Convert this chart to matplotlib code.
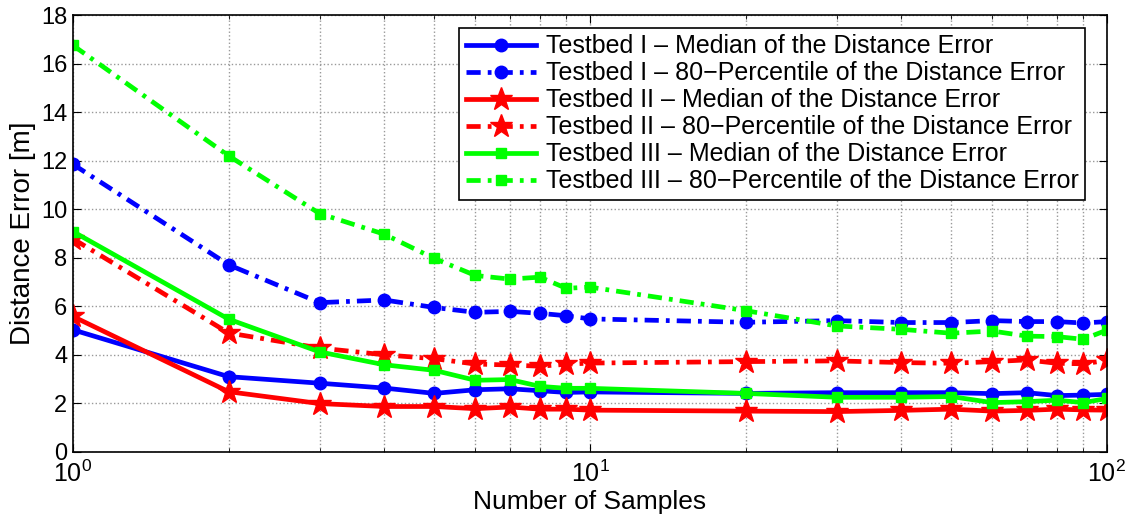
import math
import matplotlib
matplotlib.use("Agg")
import matplotlib.pyplot as plt
from matplotlib.ticker import LogLocator, NullFormatter, FuncFormatter

plt.rcParams['font.family'] = ['Liberation Sans', 'DejaVu Sans']
plt.rcParams['mathtext.fontset'] = 'custom'
plt.rcParams['mathtext.rm'] = 'Liberation Sans'
plt.rcParams['mathtext.it'] = 'Liberation Sans'

# samples
n_samples = [1, 2, 3, 4, 5, 6, 7, 8, 9, 10, 20, 30, 40, 50, 60, 70, 80, 90, 100]

# distance error [m]
tb1_median = [5.03, 3.10, 2.83, 2.63, 2.41, 2.56, 2.60, 2.52, 2.45, 2.47,
              2.41, 2.44, 2.44, 2.44, 2.40, 2.44, 2.32, 2.34, 2.37]
tb1_p80 = [11.85, 7.71, 6.15, 6.26, 5.95, 5.75, 5.79, 5.71, 5.61, 5.48,
           5.34, 5.41, 5.33, 5.33, 5.41, 5.37, 5.37, 5.31, 5.37]
tb2_median = [5.58, 2.48, 1.99, 1.87, 1.87, 1.78, 1.85, 1.76, 1.76, 1.72,
              1.68, 1.66, 1.71, 1.76, 1.68, 1.71, 1.76, 1.73, 1.72]
tb2_p80 = [8.78, 4.90, 4.28, 4.00, 3.84, 3.62, 3.58, 3.53, 3.61, 3.66,
           3.72, 3.75, 3.68, 3.65, 3.72, 3.79, 3.65, 3.63, 3.77]
tb3_median = [9.08, 5.47, 4.12, 3.59, 3.36, 2.95, 2.98, 2.70, 2.62, 2.62,
              2.41, 2.25, 2.25, 2.28, 2.03, 2.07, 2.13, 2.03, 2.20]
tb3_p80 = [16.75, 12.20, 9.82, 8.97, 7.97, 7.27, 7.12, 7.20, 6.74, 6.79,
           5.82, 5.19, 5.05, 4.89, 4.98, 4.77, 4.75, 4.64, 5.02]

labels = [
    "Testbed I \u2013 Median of the Distance Error",
    "Testbed I \u2013 80\u2212Percentile of the Distance Error",
    "Testbed II \u2013 Median of the Distance Error",
    "Testbed II \u2013 80\u2212Percentile of the Distance Error",
    "Testbed III \u2013 Median of the Distance Error",
    "Testbed III \u2013 80\u2212Percentile of the Distance Error",
]

fig = plt.figure(figsize=(11.3, 5.2), dpi=100)
ax = fig.add_axes([0.0646, 0.131, 0.915, 0.840])

dashdot = (0, (3, 1.5, 0.8, 1.5))
lw = 3.4
ax.plot(n_samples, tb1_median, color='#0000ff', lw=lw, marker='o', ms=9, label=labels[0])
ax.plot(n_samples, tb1_p80, color='#0000ff', lw=lw, ls=dashdot, marker='o', ms=9, label=labels[1])
ax.plot(n_samples, tb2_median, color='#ff0000', lw=lw, marker='*', ms=17, label=labels[2])
ax.plot(n_samples, tb2_p80, color='#ff0000', lw=lw, ls=dashdot, marker='*', ms=17, label=labels[3])
ax.plot(n_samples, tb3_median, color='#00ff00', lw=lw, marker='s', ms=7.5, label=labels[4])
ax.plot(n_samples, tb3_p80, color='#00ff00', lw=lw, ls=dashdot, marker='s', ms=7.5, label=labels[5])

ax.set_xscale('log')
ax.set_xlim(1, 100)
ax.set_ylim(0, 18)
ax.set_yticks(range(0, 19, 2))
ax.xaxis.set_minor_locator(LogLocator(base=10, subs=range(2, 10)))
ax.xaxis.set_minor_formatter(NullFormatter())
ax.xaxis.set_major_formatter(FuncFormatter(
    lambda v, p: r"$10^{%d}$" % round(math.log10(v))))

ax.grid(True, which='major', ls=':', color='#999999', lw=1)
ax.grid(True, which='minor', axis='x', ls=':', color='#999999', lw=1)
ax.tick_params(which='both', direction='in', top=True, right=True, labelsize=17)
ax.tick_params(axis='x', pad=6, labelsize=18)
ax.tick_params(axis='y', pad=4)
ax.tick_params(which='major', length=6)
ax.tick_params(which='minor', length=3)
for s in ax.spines.values():
    s.set_linewidth(1.2)

ax.set_xlabel("Number of Samples", fontsize=19)
ax.xaxis.set_label_coords(0.5, -0.087)
ax.set_ylabel("Distance Error [m]", fontsize=20, labelpad=4)

leg = ax.legend(loc='upper right', fontsize=18, frameon=True, fancybox=False,
                edgecolor='black', framealpha=1, handlelength=2.8,
                borderpad=0.25, labelspacing=0.12, handletextpad=0.4,
                borderaxespad=0, bbox_to_anchor=(0.9785, 0.97))
leg.get_frame().set_linewidth(1.2)

fig.savefig("out.png", dpi=100)
